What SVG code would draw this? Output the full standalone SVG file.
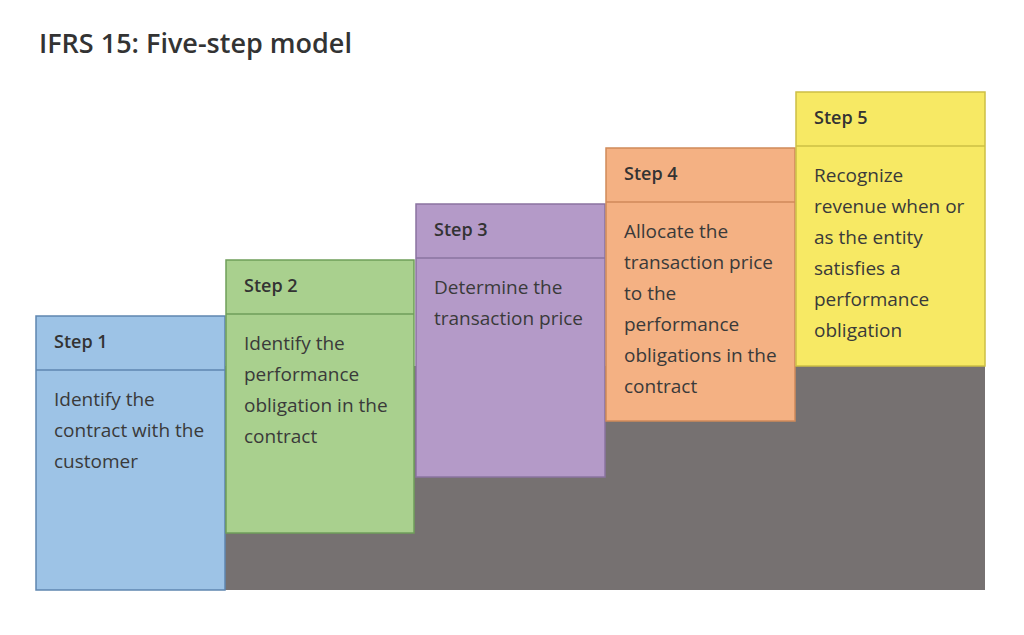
<svg xmlns="http://www.w3.org/2000/svg" width="1024" height="635" viewBox="0 0 1024 635">
<style>
.title{font-family:"Open Sans",Lato,sans-serif;font-size:27px;font-weight:600;fill:#333}
.hd{font-family:"Open Sans",Lato,sans-serif;font-size:18px;font-weight:600;fill:#333}
.tx{font-family:"Open Sans",Lato,sans-serif;font-size:19px;fill:#3a3a3a}
.b1{fill:#9dc3e6;stroke:#5f86b0}
.b2{fill:#a9d08e;stroke:#6f9e5a}
.b3{fill:#b49ac8;stroke:#8a73a0}
.b4{fill:#f4b183;stroke:#d08a5a}
.b5{fill:#f7e964;stroke:#cdbf45}
rect,line{stroke-width:1.5}
</style>
<rect width="1024" height="635" fill="#fff"/>
<text class="title" x="39" y="53">IFRS 15: Five-step model</text>
<rect x="225" y="366" width="760" height="224" fill="#767171"/>
<g id="step1">
<rect class="b1" x="36" y="316" width="189" height="274"/>
<line class="b1" x1="36" y1="370" x2="225" y2="370"/>
<text class="hd" x="54" y="348">Step 1</text>
<text class="tx" x="54" y="406">Identify the</text>
<text class="tx" x="54" y="437">contract with the</text>
<text class="tx" x="54" y="468">customer</text>
</g>
<g id="step2">
<rect class="b2" x="226" y="260" width="188" height="273"/>
<line class="b2" x1="226" y1="314" x2="414" y2="314"/>
<text class="hd" x="244" y="292">Step 2</text>
<text class="tx" x="244" y="350">Identify the</text>
<text class="tx" x="244" y="381">performance</text>
<text class="tx" x="244" y="412">obligation in the</text>
<text class="tx" x="244" y="443">contract</text>
</g>
<g id="step3">
<rect class="b3" x="416" y="204" width="189" height="273"/>
<line class="b3" x1="416" y1="258" x2="605" y2="258"/>
<text class="hd" x="434" y="236">Step 3</text>
<text class="tx" x="434" y="294">Determine the</text>
<text class="tx" x="434" y="325">transaction price</text>
</g>
<g id="step4">
<rect class="b4" x="606" y="148" width="189" height="273"/>
<line class="b4" x1="606" y1="202" x2="795" y2="202"/>
<text class="hd" x="624" y="180">Step 4</text>
<text class="tx" x="624" y="238">Allocate the</text>
<text class="tx" x="624" y="269">transaction price</text>
<text class="tx" x="624" y="300">to the</text>
<text class="tx" x="624" y="331">performance</text>
<text class="tx" x="624" y="362">obligations in the</text>
<text class="tx" x="624" y="393">contract</text>
</g>
<g id="step5">
<rect class="b5" x="796" y="92" width="189" height="274"/>
<line class="b5" x1="796" y1="146" x2="985" y2="146"/>
<text class="hd" x="814" y="124">Step 5</text>
<text class="tx" x="814" y="182">Recognize</text>
<text class="tx" x="814" y="213">revenue when or</text>
<text class="tx" x="814" y="244">as the entity</text>
<text class="tx" x="814" y="275">satisfies a</text>
<text class="tx" x="814" y="306">performance</text>
<text class="tx" x="814" y="337">obligation</text>
</g>
<g id="connectors"></g>
</svg>
